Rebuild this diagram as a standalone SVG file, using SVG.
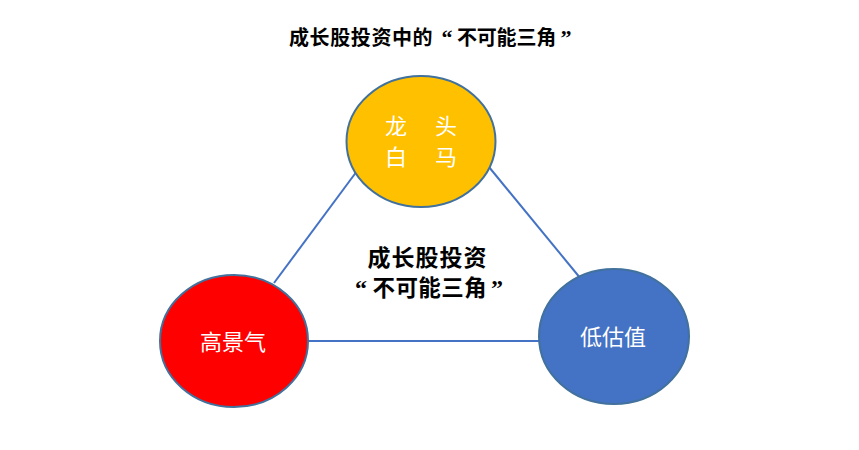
<svg xmlns="http://www.w3.org/2000/svg" width="859" height="450" viewBox="0 0 859 450">
<style>
.t{font-family:"Liberation Serif","Noto Sans CJK SC",serif;}
.b{font-weight:bold;fill:#000;}
.w{fill:#fff;font-size:22px;text-anchor:middle;}
.node{stroke:#41719C;stroke-width:2;}
.conn{stroke:#4472C4;stroke-width:2;fill:none;}
</style>
<rect width="859" height="450" fill="#fff"/>
<g id="title">
<text class="t b" x="289" y="45" font-size="20" letter-spacing="0.6">成长股投资中的</text>
<text class="t b" x="447" y="45" font-size="22" text-anchor="middle">“</text>
<text class="t b" x="457" y="45" font-size="20" letter-spacing="-0.2">不可能三角</text>
<text class="t b" x="566" y="45" font-size="22" text-anchor="middle">”</text>
</g>
<g id="connectors">
<line class="conn" x1="274" y1="283" x2="357" y2="171"/>
<line class="conn" x1="489" y1="167" x2="581" y2="279"/>
<line class="conn" x1="308" y1="341" x2="539" y2="341"/>
</g>
<g id="center-label">
<text class="t b" x="367.5" y="266" font-size="23" letter-spacing="1">成长股投资</text>
<text class="t b" x="361" y="296" font-size="24" text-anchor="middle">“</text>
<text class="t b" x="372.5" y="296" font-size="22.5" letter-spacing="0.4">不可能三角</text>
<text class="t b" x="497" y="296" font-size="24" text-anchor="middle">”</text>
</g>
<g id="node-top">
<ellipse class="node" cx="421" cy="141.5" rx="74.5" ry="65.5" fill="#FFC000"/>
<text class="t w" x="396" y="134">龙</text>
<text class="t w" x="446" y="134">头</text>
<text class="t w" x="396" y="165">白</text>
<text class="t w" x="446" y="165">马</text>
</g>
<g id="node-left">
<ellipse class="node" cx="234" cy="341" rx="74" ry="66" fill="#FF0000"/>
<text class="t w" x="233" y="350">高景气</text>
</g>
<g id="node-right">
<ellipse class="node" cx="614" cy="336.5" rx="75" ry="67.5" fill="#4472C4"/>
<text class="t w" x="613" y="345">低估值</text>
</g>
</svg>
